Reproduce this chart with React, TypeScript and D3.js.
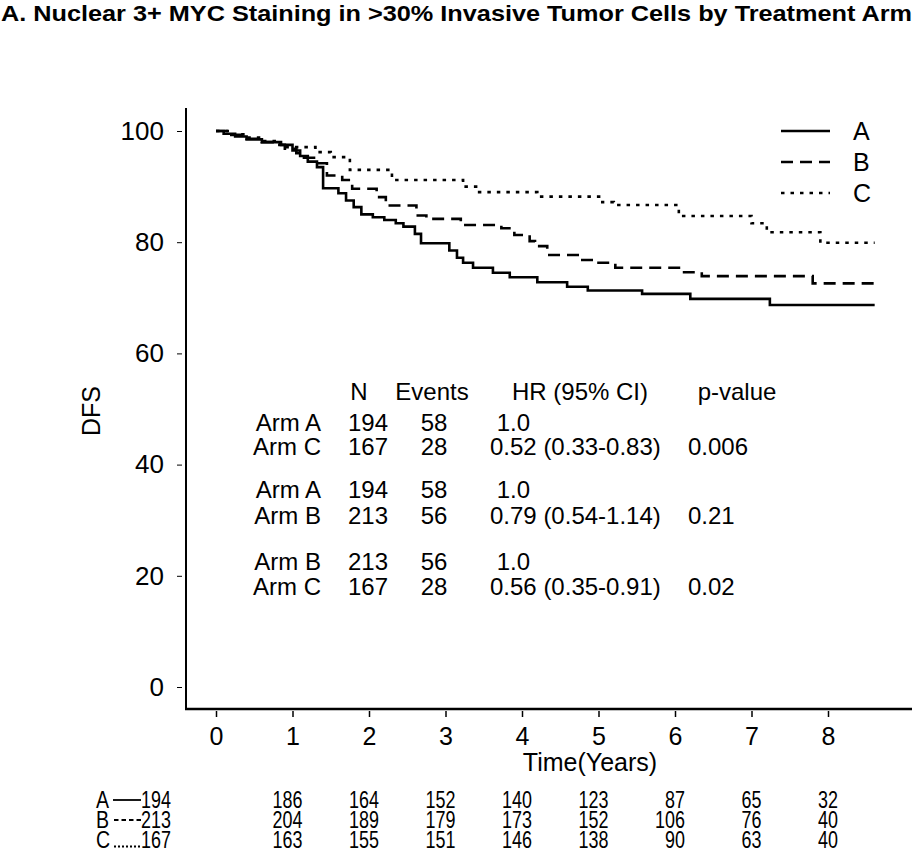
import React, { useEffect, useRef } from "react";
import * as d3 from "d3";

const TITLE = "A. Nuclear 3+ MYC Staining in >30% Invasive Tumor Cells by Treatment Arm";

const armA_t = [0, 0.1, 0.25, 0.4, 0.6, 0.85, 1.0, 1.1, 1.2, 1.32, 1.4, 1.6, 1.7, 1.8, 1.9, 2.05, 2.2, 2.35, 2.45, 2.6, 2.68, 3.05, 3.15, 3.23, 3.36, 3.62, 3.84, 4.2, 4.59, 4.86, 5.57, 6.2, 7.24, 8.61];
const armA_s = [100, 99.5, 99, 98.5, 98, 97.5, 96.5, 95.5, 94.5, 93.5, 89.7, 88.8, 87.5, 86.3, 85, 84.5, 84, 83.4, 82.8, 81.5, 79.8, 78.5, 77.2, 76.3, 75.4, 74.5, 73.7, 72.8, 72, 71.3, 70.7, 69.8, 68.7, 68.7];

const armB_t = [0, 0.2, 0.4, 0.6, 0.8, 0.9, 1.05, 1.15, 1.3, 1.45, 1.65, 1.78, 2.1, 2.22, 2.62, 2.75, 3.2, 3.73, 3.9, 4.1, 4.17, 4.33, 4.76, 5.0, 5.22, 6.08, 6.35, 7.8, 8.6];
const armB_s = [100, 99.3, 98.6, 98, 97.5, 96.8, 96, 95.2, 94.2, 92, 91.2, 89.6, 88.1, 86.6, 84.8, 84.2, 83.1, 82.5, 81.3, 80.2, 79.3, 77.7, 76.8, 76.3, 75.4, 74.6, 73.9, 72.6, 72.6];

const armC_t = [0, 0.2, 0.4, 0.6, 0.8, 0.93, 1.3, 1.5, 1.75, 2.3, 3.23, 3.4, 4.2, 5.05, 5.2, 6.05, 7.0, 7.2, 7.9, 8.61];
const armC_s = [100, 99.4, 98.8, 98.2, 97.6, 97.1, 96.2, 95.3, 93, 91.2, 90, 89, 88.2, 87.2, 86.7, 84.7, 83.4, 81.8, 79.9, 79.9];

const armNames = ["A", "B", "C"];
const xTicks = [0, 1, 2, 3, 4, 5, 6, 7, 8];
const yTicks = [0, 20, 40, 60, 80, 100];

const hrHeader = ["N", "Events", "HR (95% CI)", "p-value"];
const hrLabels = ["Arm A", "Arm C", "Arm A", "Arm B", "Arm B", "Arm C"];
const hrN = ["194", "167", "194", "213", "213", "167"];
const hrEvents = ["58", "28", "58", "56", "56", "28"];
const hrHR = [" 1.0", "0.52 (0.33-0.83)", " 1.0", "0.79 (0.54-1.14)", " 1.0", "0.56 (0.35-0.91)"];
const hrP = ["", "0.006", "", "0.21", "", "0.02"];

const riskA = [194, 186, 164, 152, 140, 123, 87, 65, 32];
const riskB = [213, 204, 189, 179, 173, 152, 106, 76, 40];
const riskC = [167, 163, 155, 151, 146, 138, 90, 63, 40];

const FONT = "'Liberation Sans', Arial, sans-serif";

export default function App() {
  const ref = useRef<SVGSVGElement>(null);

  useEffect(() => {
    const svg = d3.select(ref.current);
    svg.selectAll("*").remove();

    const x = d3.scaleLinear().domain([0, 8]).range([216, 828]);
    const y = d3.scaleLinear().domain([0, 100]).range([687, 131]);

    // title
    svg.append("text")
      .attr("x", 1).attr("y", 21)
      .attr("font-family", FONT).attr("font-weight", "bold").attr("font-size", 22.5)
      .attr("textLength", 911).attr("lengthAdjust", "spacingAndGlyphs")
      .text(TITLE);

    // axes lines
    svg.append("line").attr("x1", 186).attr("x2", 186).attr("y1", 108).attr("y2", 710)
      .attr("stroke", "#000").attr("stroke-width", 2);
    svg.append("line").attr("x1", 185).attr("x2", 912).attr("y1", 709).attr("y2", 709)
      .attr("stroke", "#000").attr("stroke-width", 2.5);

    const xAxis = d3.axisBottom(x).tickValues(xTicks).tickSize(6).tickPadding(10).tickFormat(d3.format("d"));
    const gx = svg.append("g").attr("transform", "translate(0,711)").call(xAxis);
    gx.select(".domain").remove();
    gx.selectAll("line").attr("stroke-width", 1.5);
    gx.selectAll("text").attr("font-family", FONT).attr("font-size", 25).attr("fill", "#000");

    const yAxis = d3.axisLeft(y).tickValues(yTicks).tickSize(5).tickPadding(13);
    const gy = svg.append("g").attr("transform", "translate(182,0)").call(yAxis);
    gy.select(".domain").remove();
    gy.selectAll("line").attr("stroke-width", 1);
    gy.selectAll("text").attr("font-family", FONT).attr("font-size", 26).attr("fill", "#000");

    svg.append("text")
      .attr("transform", "translate(100,411) rotate(-90)")
      .attr("text-anchor", "middle")
      .attr("font-family", FONT).attr("font-size", 25)
      .text("DFS");

    svg.append("text")
      .attr("x", 590).attr("y", 771)
      .attr("text-anchor", "middle")
      .attr("font-family", FONT).attr("font-size", 25)
      .text("Time(Years)");

    // curves
    const series = [
      { t: armA_t, s: armA_s, dash: null },
      { t: armB_t, s: armB_s, dash: "12,7" },
      { t: armC_t, s: armC_s, dash: "3.5,6" },
    ];
    const line = d3.line<[number, number]>()
      .x((d) => x(d[0]))
      .y((d) => y(d[1]))
      .curve(d3.curveStepAfter);
    series.forEach((ser) => {
      const pts = ser.t.map((t, i) => [t, ser.s[i]] as [number, number]);
      const p = svg.append("path")
        .attr("d", line(pts))
        .attr("fill", "none").attr("stroke", "#000").attr("stroke-width", 2.6);
      if (ser.dash) p.attr("stroke-dasharray", ser.dash);
    });

    // legend
    const legY = [131, 162, 193];
    series.forEach((ser, i) => {
      const l = svg.append("line").attr("x1", 781).attr("x2", 830)
        .attr("y1", legY[i]).attr("y2", legY[i])
        .attr("stroke", "#000").attr("stroke-width", 2.6);
      if (ser.dash) l.attr("stroke-dasharray", ser.dash);
      svg.append("text").attr("x", 853).attr("y", legY[i] + 9)
        .attr("font-family", FONT).attr("font-size", 25)
        .text(armNames[i]);
    });

    // HR table
    const tf = (sel: any) => sel.attr("font-family", FONT).attr("font-size", 24);
    const headX = [359, 432, 580, 737];
    hrHeader.forEach((h, i) => {
      tf(svg.append("text").attr("x", headX[i]).attr("y", 400).attr("text-anchor", "middle").text(h));
    });
    const rowY = [431, 455, 498, 524, 570, 595];
    hrLabels.forEach((lab, i) => {
      tf(svg.append("text").attr("x", 321).attr("y", rowY[i]).attr("text-anchor", "end").text(lab));
      tf(svg.append("text").attr("x", 368).attr("y", rowY[i]).attr("text-anchor", "middle").text(hrN[i]));
      tf(svg.append("text").attr("x", 434).attr("y", rowY[i]).attr("text-anchor", "middle").text(hrEvents[i]));
      tf(svg.append("text").attr("x", 490).attr("y", rowY[i]).attr("xml:space", "preserve").style("white-space", "pre").text(hrHR[i]));
      if (hrP[i]) tf(svg.append("text").attr("x", 688).attr("y", rowY[i]).text(hrP[i]));
    });

    // risk table
    const risks = [riskA, riskB, riskC];
    const rY = [808, 828, 848];
    const RF = 23;
    risks.forEach((r, ri) => {
      const g = svg.append("g");
      g.append("text").attr("transform", `translate(96,${rY[ri]}) scale(0.85,1)`)
        .attr("font-family", FONT).attr("font-size", RF).text(armNames[ri]);
      const ly = rY[ri] - 8;
      if (ri === 0) {
        g.append("line").attr("x1", 113).attr("x2", 141).attr("y1", ly).attr("y2", ly)
          .attr("stroke", "#000").attr("stroke-width", 1.8);
      } else if (ri === 1) {
        g.append("line").attr("x1", 114).attr("x2", 141).attr("y1", ly).attr("y2", ly)
          .attr("stroke", "#000").attr("stroke-width", 1.8).attr("stroke-dasharray", "4.5,3");
      } else {
        g.append("line").attr("x1", 114).attr("x2", 141).attr("y1", rY[ri] - 1.5).attr("y2", rY[ri] - 1.5)
          .attr("stroke", "#000").attr("stroke-width", 2).attr("stroke-dasharray", "2,2");
      }
      r.forEach((v, i) => {
        const xr = i === 0 ? 171 : x(xTicks[i]) + 10;
        g.append("text").attr("transform", `translate(${xr},${rY[ri]}) scale(0.78,1)`)
          .attr("text-anchor", "end")
          .attr("font-family", FONT).attr("font-size", RF).text(String(v));
      });
    });
  }, []);

  return (
    <svg
      ref={ref}
      width={915}
      height={865}
      style={{ position: "absolute", left: 0, top: 0, background: "#fff" }}
    />
  );
}
